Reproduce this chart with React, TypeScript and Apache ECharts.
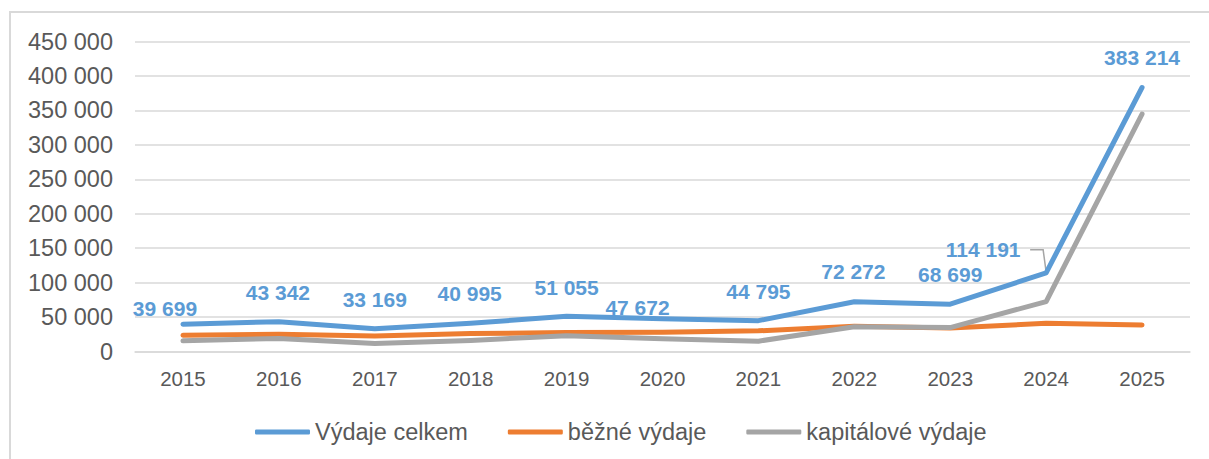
import React, { useEffect, useRef } from "react";
import * as echarts from "echarts";

const years = ["2015", "2016", "2017", "2018", "2019", "2020", "2021", "2022", "2023", "2024", "2025"];
const totalExp = [39699, 43342, 33169, 40995, 51055, 47672, 44795, 72272, 68699, 114191, 383214];
const currentExp = [23500, 25000, 22500, 26000, 27600, 28000, 30000, 36500, 34000, 41000, 38500];
const capitalExp = [15500, 19000, 11500, 16000, 23000, 18500, 15000, 35800, 34700, 72500, 344700];
// label offsets (dx, dy) of the data labels of the total series
const labelOffsets: [number, number][] = [
  [-18, -16], [-1, -29], [0, -29], [-1, -30], [0, -29], [-25, -11],
  [0, -29], [-1, -30], [0, -30], [-63, -23], [0, -30],
];
const seriesNames = ["Výdaje celkem", "běžné výdaje", "kapitálové výdaje"];
const colors = ["#5B9BD5", "#ED7D31", "#A5A5A5"];

const fmt = (v: number) => String(v).replace(/\B(?=(\d{3})+(?!\d))/g, " ");
const FONT = "'Liberation Sans', Arial, sans-serif";

export default function App() {
  const ref = useRef<HTMLDivElement>(null);
  useEffect(() => {
    if (!ref.current) return;
    const chart = echarts.init(ref.current, null, { renderer: "svg" });
    const lineSeries = (name: string, data: number[], color: string, z: number) => ({
      name,
      type: "line",
      data,
      z,
      symbol: "circle",
      symbolSize: 1,
      showSymbol: true,
      itemStyle: { color },
      lineStyle: { color, width: 5, cap: "round", join: "round" },
      emphasis: { disabled: true },
    });
    const total: any = lineSeries(seriesNames[0], totalExp, colors[0], 5);
    total.data = totalExp.map((v, i) => ({
      value: v,
      label: {
        show: true,
        position: "inside",
        offset: labelOffsets[i],
        formatter: () => fmt(v),
        color: colors[0],
        fontSize: 21,
        fontWeight: "bold",
        fontFamily: FONT,
      },
    }));
    chart.setOption({
      animation: false,
      textStyle: { fontFamily: FONT },
      grid: { left: 135, right: 19, top: 41.5, bottom: 107.5 },
      xAxis: {
        type: "category",
        data: years,
        boundaryGap: true,
        axisLine: { show: true, lineStyle: { color: "#D9D9D9", width: 1.5 } },
        axisTick: { show: false },
        axisLabel: { color: "#595959", fontSize: 20.5, margin: 16, fontFamily: FONT },
      },
      yAxis: {
        type: "value",
        min: 0,
        max: 450000,
        interval: 50000,
        axisLine: { show: false },
        axisTick: { show: false },
        splitLine: { lineStyle: { color: "#D9D9D9", width: 1.5 } },
        axisLabel: { color: "#595959", fontSize: 23.5, margin: 22, fontFamily: FONT, formatter: (v: number) => fmt(v) },
      },
      legend: {
        left: 250,
        top: 415,
        icon: "roundRect",
        itemWidth: 55,
        itemHeight: 5,
        itemGap: 40,
        textStyle: { color: "#595959", fontSize: 23.5, fontFamily: FONT, padding: [0, 0, 0, 0] },
        data: seriesNames,
      },
      series: [
        total,
        lineSeries(seriesNames[1], currentExp, colors[1], 3),
        lineSeries(seriesNames[2], capitalExp, colors[2], 4),
      ],
    });
    // border frame and leader line for the 2024 label
    const p = chart.convertToPixel({ gridIndex: 0 }, [years[9], totalExp[9]]) as number[];
    const off = labelOffsets[9];
    chart.setOption({
      graphic: [
        {
          type: "rect",
          silent: true,
          shape: { x: 10, y: 12, width: 1400, height: 600 },
          style: { fill: "none", stroke: "#D9D9D9", lineWidth: 2 },
        },
        {
          type: "polyline",
          silent: true,
          shape: { points: [[p[0] + off[0] + 47, p[1] + off[1]], [p[0] - 3, p[1] + off[1]], [p[0], p[1] - 1]] },
          style: { fill: "none", stroke: "#A5A5A5", lineWidth: 1.5 },
        },
      ],
    });
    return () => chart.dispose();
  }, []);
  return <div ref={ref} style={{ position: "absolute", left: 0, top: 0, width: 1209, height: 459 }} />;
}
